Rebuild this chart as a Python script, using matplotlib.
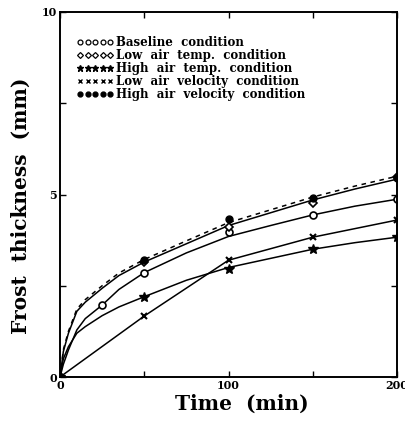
import matplotlib
matplotlib.use("Agg")
import matplotlib.pyplot as plt
from matplotlib.lines import Line2D

# ---- data ----
curve_t = [0, 2, 5, 10, 15, 25, 35, 50, 75, 100, 125, 150, 175, 200]
high_vel_curve = [0, 0.7, 1.2, 1.8, 2.05, 2.43, 2.78, 3.15, 3.65, 4.15, 4.5, 4.85, 5.15, 5.42]
low_temp_curve = [0, 0.75, 1.25, 1.86, 2.12, 2.5, 2.85, 3.22, 3.73, 4.23, 4.58, 4.93, 5.23, 5.5]
baseline_curve = [0, 0.35, 0.74, 1.29, 1.6, 1.97, 2.4, 2.86, 3.4, 3.85, 4.15, 4.44, 4.68, 4.87]
high_temp_curve = [0, 0.5, 0.83, 1.2, 1.38, 1.68, 1.92, 2.2, 2.65, 3.0, 3.25, 3.5, 3.68, 3.83]

pt_t = [0, 50, 100, 150, 200]
baseline_t = [0, 25, 50, 100, 150, 200]
baseline_pts = [0, 1.97, 2.86, 3.98, 4.44, 4.87]
low_temp_pts = [0, 3.15, 4.1, 4.77, 5.48]
high_temp_pts = [0, 2.2, 2.95, 3.5, 3.83]
low_vel_pts = [0, 1.67, 3.2, 3.83, 4.3]
high_vel_pts = [0, 3.2, 4.32, 4.9, 5.45]

labels = ["Baseline  condition", "Low  air  temp.  condition", "High  air  temp.  condition",
          "Low  air  velocity  condition", "High  air  velocity  condition"]
x_ticks = [0, 50, 100, 150, 200]
x_labels = ["0", "", "100", "", "200"]
y_ticks = [0, 2.5, 5, 7.5, 10]
y_labels = ["0", "", "5", "", "10"]

plt.rcParams['font.family'] = ['DejaVu Serif']
fig = plt.figure(figsize=(4.05, 4.22), dpi=100)
ax = fig.add_axes([60/405, 45/422, 337/405, 365/422])

lw = 1.1
ax.plot(curve_t, high_vel_curve, color='black', lw=lw)
ax.plot(curve_t, low_temp_curve, color='black', lw=lw, ls=(0, (3, 3)))
ax.plot(curve_t, baseline_curve, color='black', lw=lw)
ax.plot(curve_t, high_temp_curve, color='black', lw=lw)
ax.plot(pt_t, low_vel_pts, color='black', lw=lw)

ms = 5
ax.plot(baseline_t, baseline_pts, 'o', mfc='white', mec='black', ms=ms, mew=1.2, ls='none')
ax.plot(pt_t, low_temp_pts, 'D', mfc='white', mec='black', ms=ms-1, mew=1.2, ls='none')
ax.plot(pt_t, high_temp_pts, '*', color='black', ms=ms+2, ls='none')
ax.plot(pt_t, low_vel_pts, 'x', color='black', ms=ms, mew=1.5, ls='none')
ax.plot(pt_t, high_vel_pts, 'o', color='black', ms=ms, ls='none')

ax.set_xlim(0, 200)
ax.set_ylim(0, 10)
ax.set_xticks(x_ticks)
ax.set_xticklabels(x_labels)
ax.set_yticks(y_ticks)
ax.set_yticklabels(y_labels)
ax.tick_params(direction='in', top=True, right=True, length=4, width=1, labelsize=8, pad=2)
for lab in ax.get_xticklabels() + ax.get_yticklabels():
    lab.set_fontweight('bold')
for s in ax.spines.values():
    s.set_linewidth(1.4)

ax.set_xlabel("Time  (min)", fontsize=14.5, fontweight='bold')
ax.xaxis.set_label_coords(0.54, -0.045, transform=ax.transAxes)
ax.xaxis.label.set_va('top')
ax.set_ylabel("Frost  thickness  (mm)", fontsize=14.5, fontweight='bold')
ax.yaxis.set_label_coords(-0.088, 0.47, transform=ax.transAxes)

handles = [
    Line2D([], [], marker='o', mfc='white', mec='black', ms=3.5, mew=0.9, ls='none'),
    Line2D([], [], marker='D', mfc='white', mec='black', ms=3, mew=0.9, ls='none'),
    Line2D([], [], marker='*', color='black', ms=5, ls='none'),
    Line2D([], [], marker='x', color='black', ms=3.5, ls='none'),
    Line2D([], [], marker='o', color='black', ms=3.5, ls='none'),
]
leg = ax.legend(handles, labels, loc='upper left', bbox_to_anchor=(0.05, 0.935), numpoints=5,
                handlelength=3.1, handletextpad=0.2, labelspacing=0.0, frameon=False,
                prop={'size': 8.5, 'weight': 'bold'}, borderaxespad=0, borderpad=0)

fig.savefig("out.png", dpi=100)
